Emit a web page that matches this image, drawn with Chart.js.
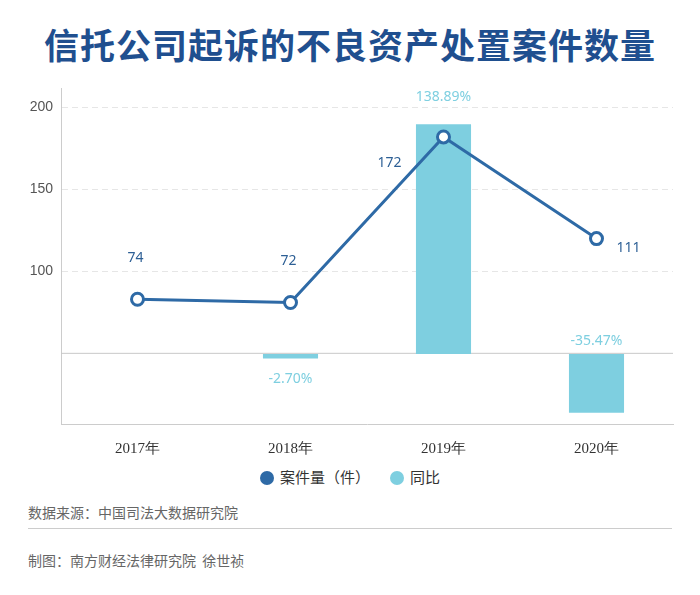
<!DOCTYPE html>
<html><head><meta charset="utf-8">
<script src="https://cdn.jsdelivr.net/npm/chart.js@4"></script>
<style>
body{margin:0;width:700px;height:595px;background:#fff;font-family:"Noto Sans CJK SC","Noto Sans",sans-serif;position:relative;overflow:hidden}
#title{position:absolute;top:18px;left:0;width:700px;text-align:center;font-size:35px;font-weight:bold;color:#1f4f8f;letter-spacing:1px}
#wrap{position:absolute;top:72px;left:0;width:700px;height:394px}
#legend{position:absolute;top:466px;left:0;width:700px;text-align:center;font-size:15px;color:#333}
.dot{display:inline-block;width:14px;height:14px;border-radius:7px;vertical-align:-2px;margin-right:6px}
#src{position:absolute;top:502px;left:28px;font-size:14px;color:#666}
#hr{position:absolute;top:528px;left:28px;width:644px;border-top:1px solid #ccc}
#by{position:absolute;top:550px;left:28px;font-size:14px;color:#666}
</style></head><body>
<div id="title">信托公司起诉的不良资产处置案件数量</div>
<div id="wrap"><canvas id="c"></canvas></div>
<div id="legend"><span class="dot" style="background:#2e6aa6"></span>案件量（件）&nbsp;&nbsp;&nbsp;&nbsp;&nbsp;&nbsp;<span class="dot" style="background:#7ecfe0"></span>同比</div>
<div id="src">数据来源：中国司法大数据研究院</div>
<div id="hr"></div>
<div id="by">制图：南方财经法律研究院&nbsp;&nbsp;徐世祯</div>
<script>
const categories=["2017年","2018年","2019年","2020年"];
const casePlotted=[83,81,182,120];
const caseLabels=["74","72","172","111"];
const yoy=[0,-2.70,138.89,-35.47];
const yoyLabels=["","-2.70%","138.89%","-35.47%"];
const leftTicks=[50,100,150,200];

const labelPlugin={id:'lbl',afterDatasetsDraw(ch){
  const ctx=ch.ctx;ctx.save();ctx.font='14px "Noto Sans","Liberation Sans",sans-serif';ctx.textAlign='center';ctx.textBaseline='middle';
  const lm=ch.getDatasetMeta(0);
  const offs=[[-2,-41],[-2,-41],[-54,26],[32,9]];
  lm.data.forEach((p,i)=>{ctx.fillStyle='#2d5f95';ctx.fillText(caseLabels[i],p.x+offs[i][0],p.y+offs[i][1]);});
  const bm=ch.getDatasetMeta(1);const y2=ch.scales.y2;
  bm.data.forEach((b,i)=>{if(!yoyLabels[i])return;ctx.fillStyle='#7ecfe0';let y;
    if(yoy[i]>0)y=b.y-27;else if(i===1)y=y2.getPixelForValue(yoy[i])+21;else y=y2.getPixelForValue(0)-13;
    ctx.fillText(yoyLabels[i],b.x,y);});
  ctx.restore();}};
const zeroLine={id:'zl',beforeDatasetsDraw(ch){const ctx=ch.ctx,a=ch.chartArea,y=ch.scales.y.getPixelForValue(50);
  ctx.save();ctx.strokeStyle='#c8c8c8';ctx.lineWidth=1;ctx.beginPath();ctx.moveTo(a.left,y);ctx.lineTo(a.right,y);ctx.stroke();ctx.restore();}};

new Chart(document.getElementById('c'),{
  data:{labels:categories,datasets:[
    {type:'line',data:casePlotted,borderColor:'#2e6aa6',borderWidth:3,pointRadius:6,pointBorderWidth:3,pointBackgroundColor:'#fff',pointBorderColor:'#2e6aa6',yAxisID:'y',order:0},
    {type:'bar',data:yoy,backgroundColor:'#7ecfe0',yAxisID:'y2',barPercentage:0.72,categoryPercentage:0.5,order:1}
  ]},
  options:{responsive:true,maintainAspectRatio:false,animation:false,clip:false,
    layout:{padding:{top:0,right:27,left:0,bottom:0}},
    plugins:{legend:{display:false},tooltip:{enabled:false}},
    scales:{
      x:{grid:{display:false},border:{color:'#ccc'},ticks:{color:'#333',font:{family:'Liberation Serif',size:15},padding:8}},
      y:{min:6.9,max:211.6,afterBuildTicks(s){s.ticks=leftTicks.map(v=>({value:v}));},
        ticks:{color:'#555',font:{size:14},padding:8,callback:v=>v===50?'':v},
        grid:{color:c=>c.tick&&c.tick.value===50?'rgba(0,0,0,0)':'#e6e6e6',drawTicks:false},
        border:{color:'#ccc',dash:[6,4]},afterFit(s){s.width=61;}},
      y2:{display:false,min:-42.3,max:160.6}
    }},
  plugins:[labelPlugin,zeroLine]
});
</script></body></html>
